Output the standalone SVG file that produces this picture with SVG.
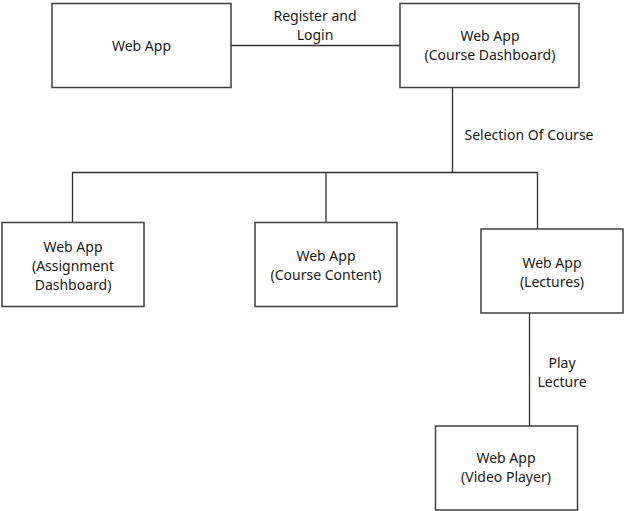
<svg xmlns="http://www.w3.org/2000/svg" width="625" height="511" viewBox="0 0 625 511">
<style>
.box{fill:#fff;stroke:#404040;stroke-width:1.5}
.ln{fill:none;stroke:#303030;stroke-width:1.3}
text{font-family:"Noto Sans","Open Sans",sans-serif;font-size:14px;fill:#1a1a1a;text-anchor:middle}
</style>
<rect width="625" height="511" fill="#fff"/>
<g id="connectors">
<line class="ln" x1="231" y1="45.5" x2="400" y2="45.5"/>
<text x="315" y="21">Register and</text>
<text x="315" y="40">Login</text>
<path class="ln" d="M452.5 88V172.5M72.5 222.5V172.5H537.5V229M326 172.5V222.5"/>
<text x="529" y="140">Selection Of Course</text>
<line class="ln" x1="529.5" y1="313" x2="529.5" y2="426"/>
<text x="562" y="368">Play</text>
<text x="562" y="387">Lecture</text>
</g>
<g id="n1"><rect class="box" x="52" y="3.5" width="179" height="84"/><text x="141.5" y="51">Web App</text></g>
<g id="n2"><rect class="box" x="400" y="3.5" width="179" height="84"/><text x="490" y="41">Web App</text><text x="490" y="60">(Course Dashboard)</text></g>
<g id="n3"><rect class="box" x="2" y="222.5" width="142" height="84"/><text x="73" y="252">Web App</text><text x="73" y="271">(Assignment</text><text x="73" y="290">Dashboard)</text></g>
<g id="n4"><rect class="box" x="255" y="222.5" width="142" height="84"/><text x="326" y="261">Web App</text><text x="326" y="280">(Course Content)</text></g>
<g id="n5"><rect class="box" x="481" y="229" width="142" height="84"/><text x="552" y="268">Web App</text><text x="552" y="287">(Lectures)</text></g>
<g id="n6"><rect class="box" x="435.5" y="426" width="142" height="84"/><text x="506" y="463">Web App</text><text x="506" y="482">(Video Player)</text></g>
</svg>
